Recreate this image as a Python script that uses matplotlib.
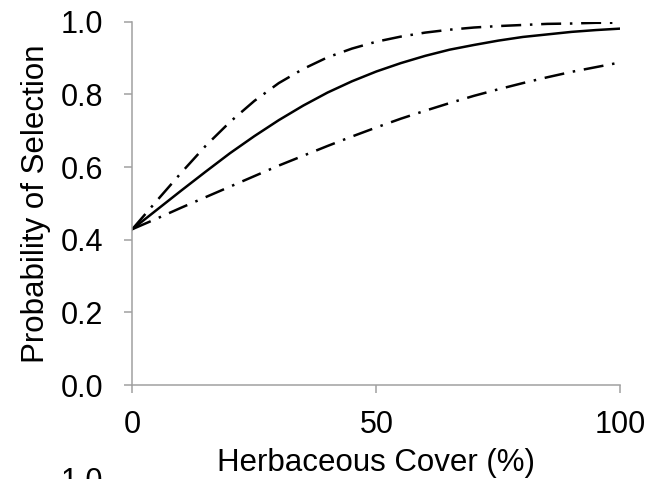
import numpy as np
import matplotlib.pyplot as plt

plt.rcParams['font.family'] = ['Liberation Sans', 'DejaVu Sans']

# herbaceous cover (%) and predicted probability
cover = [0, 5, 10, 15, 20, 25, 30, 35, 40, 45, 50,
         55, 60, 65, 70, 75, 80, 85, 90, 95, 100]
prob_fit = [0.429, 0.482, 0.535, 0.587, 0.638, 0.685, 0.729, 0.769, 0.805, 0.836, 0.863,
            0.886, 0.906, 0.923, 0.936, 0.948, 0.958, 0.965, 0.972, 0.977, 0.981]
prob_upper = [0.429, 0.507, 0.584, 0.658, 0.724, 0.782, 0.831, 0.870, 0.902, 0.926, 0.945,
              0.959, 0.970, 0.978, 0.984, 0.988, 0.991, 0.994, 0.995, 0.997, 0.997]
prob_lower = [0.429, 0.458, 0.488, 0.517, 0.546, 0.575, 0.604, 0.631, 0.658, 0.684, 0.709,
              0.733, 0.755, 0.776, 0.796, 0.814, 0.831, 0.847, 0.862, 0.875, 0.888]

xticks = [0, 50, 100]
yticks = [0.0, 0.2, 0.4, 0.6, 0.8, 1.0]

fig = plt.figure(figsize=(6.65, 4.79), dpi=100)
ax = fig.add_axes([0.199, 0.1962, 0.734, 0.7585])

dashdot = (0, (8, 3.5, 1, 3.5))
ax.plot(cover, prob_upper, color='black', lw=1.8, ls=dashdot)
ax.plot(cover, prob_fit, color='black', lw=1.8)
ax.plot(cover, prob_lower, color='black', lw=1.8, ls=dashdot)

ax.set_xlim(0, 100)
ax.set_ylim(0, 1)
ax.set_xticks(xticks)
ax.set_yticks(yticks)
ax.set_xticklabels([str(t) for t in xticks])
ax.set_yticklabels(['%.1f' % t for t in yticks])

for s in ['top', 'right']:
    ax.spines[s].set_visible(False)
for s in ['left', 'bottom']:
    ax.spines[s].set_color('#a0a0a0')
    ax.spines[s].set_linewidth(1.1)
ax.tick_params(axis='both', color='#a0a0a0', width=1.1, length=6,
               labelsize=22, labelcolor='black')
ax.tick_params(axis='x', pad=12)
ax.tick_params(axis='y', pad=15)

ax.set_xlabel('Herbaceous Cover (%)', fontsize=22.5, labelpad=6)
ax.set_ylabel('Probability of Selection', fontsize=22.5, labelpad=7)

# top of the next panel's tick label, cut off by the figure edge
fig.text(0.155, -0.022, '1.0', fontsize=22, ha='right', va='baseline')

fig.savefig('out.png', dpi=100)
